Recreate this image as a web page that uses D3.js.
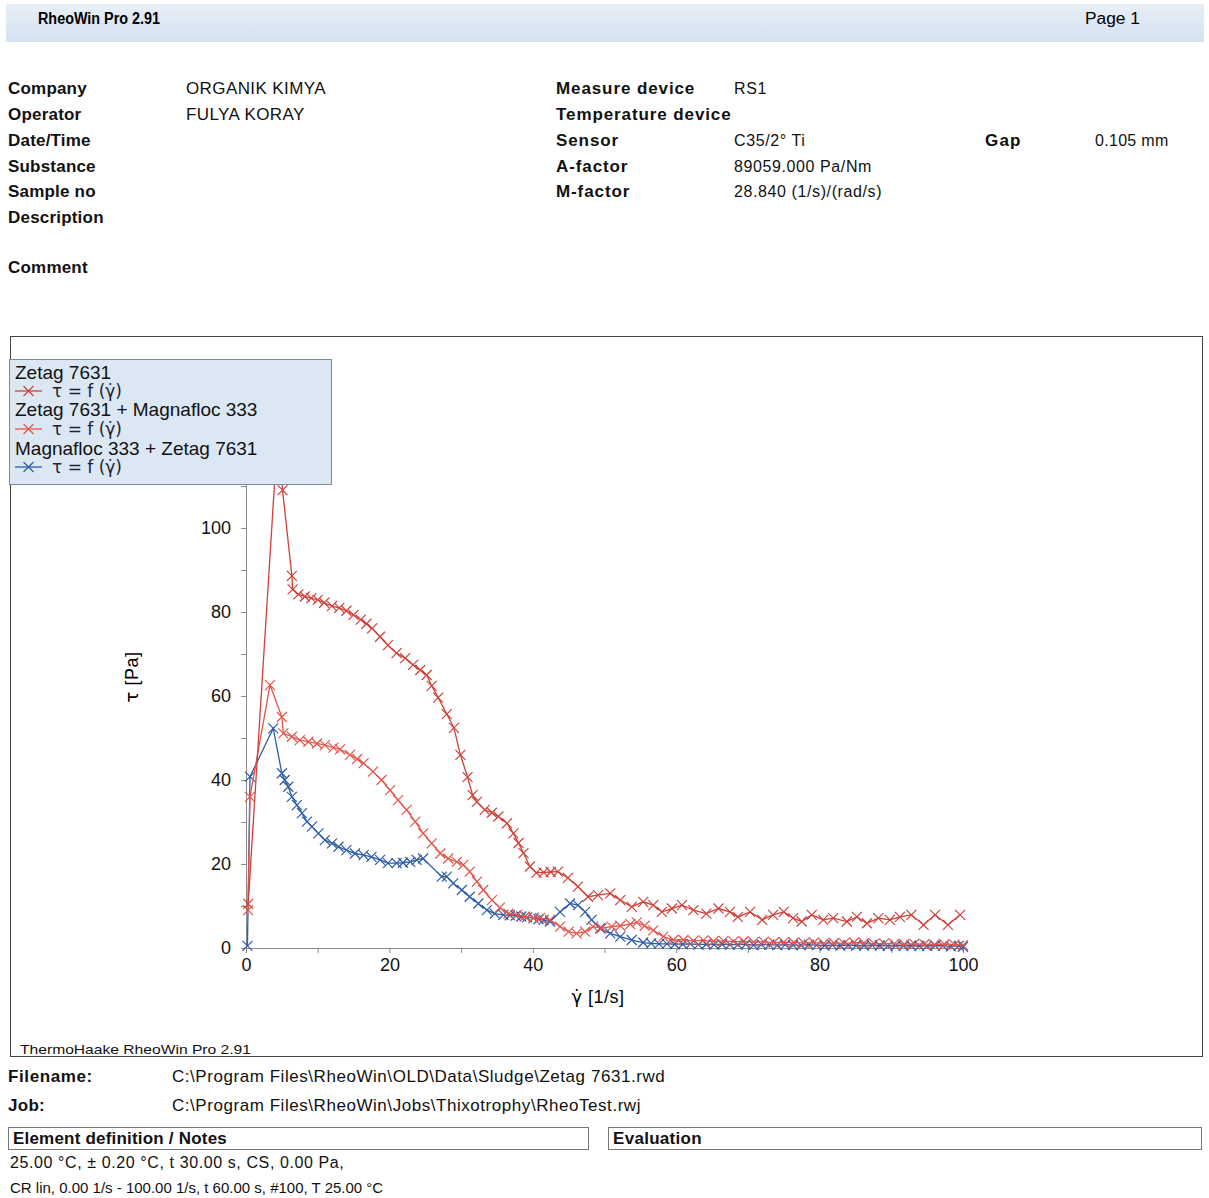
<!DOCTYPE html>
<html><head><meta charset="utf-8">
<script src="https://cdn.jsdelivr.net/npm/d3@7"></script>
<style>
html,body{margin:0;padding:0;background:#fff;}
svg{display:block;font-family:"Liberation Sans",Arial,sans-serif;}
</style></head><body>
<svg id="chart" width="1209" height="1198"></svg>
<script>
// ---------- DATA ----------
const seriesNames = ["Zetag 7631", "Zetag 7631 + Magnafloc 333", "Magnafloc 333 + Zetag 7631"];
const xTicks = [0, 20, 40, 60, 80, 100];
const yTicks = [0, 20, 40, 60, 80, 100];

const gammaA = [0.3,4.4,5.1,6.4,6.5,7.3,8.2,9.1,10,10.9,12,13,14,15,16,16.8,17.6,18.7,19.8,21,22.2,23.3,24.3,25.2,25.9,26.8,28,29,29.9,30.9,31.6,32.2,33.3,34.3,35.2,36.4,37.3,38,38.7,39.6,40.5,41.5,42.5,43.5,44.9,46.3,47.7,49.1,50.8,52.2,53.8,55.4,56.8,58,59.4,60.8,62.4,64.2,65.9,67.5,68.6,70.3,72,73.5,75,76.3,77.5,78.9,80.5,81.9,83.8,85.2,86.6,88.2,89.8,91.2,92.8,94.5,96.1,97.9,99.6];
const tauA   = [10.5,122,109,88.6,85.4,84.2,83.7,83.3,82.9,82.2,81.4,81,80.3,79.3,78.2,77.2,76.1,74.1,72.1,70.2,69,67.4,66.2,65,62.4,59.6,55.7,52.4,46,40.7,36.4,34.8,32.9,32.2,31.3,29.7,27.3,25,22.6,19.4,17.9,18,18.1,18.2,16.7,14.6,12.2,12.6,13,11.4,9.8,11,10.2,8.6,9.4,10.2,9,8.2,9.4,8.6,7.4,8.6,6.7,7.9,8.6,7.1,6.3,7.9,6.7,7.1,6.3,7.4,5.9,7.1,6.7,7.4,7.9,5.5,7.9,5.5,7.9];

const gammaB = [0.3,0.55,3.35,5,5.2,6.4,7.5,8.7,9.9,11,12.2,13.1,14.5,15.5,16.4,17.7,18.9,20.1,21.2,22.4,23.6,24.7,25.9,27.1,28.2,29.4,30.3,31.2,32.2,33.1,34.3,35.4,36.6,37.8,38.9,40.1,41,42.4,43.8,45,46.1,47.3,48.4,49.6,51,52.2,53.6,54.5,55.6,56.8,58.2,59.6,61,62.4,63.8,65.2,66.6,68,69.4,70.8,72.2,73.6,75,76.4,77.8,79.2,80.6,82,83.4,84.8,86.2,87.6,89,90.4,91.8,93.2,94.6,96,97.4,98.8,100];
const tauB   = [9,36,62.6,55,51.1,50.3,49.5,49.1,48.7,48.3,47.7,47.3,46,45,44,42,40,37.6,35.2,32.9,30.1,27.3,24.9,22.5,21.3,20.5,19.8,18.2,15.8,13.8,11.4,9.6,8.2,7.9,7.5,7.2,7.1,6.7,5.1,3.9,3.5,3.9,5.1,4.7,5.1,5.3,5.7,6.1,5.3,4.2,2.7,1.9,1.9,1.7,1.8,1.6,1.7,1.5,1.6,1.4,1.5,1.3,1.4,1.3,1.2,1.3,1.1,1.2,1.1,1.3,1.2,1.0,1.1,1.0,0.9,1.0,0.9,0.8,0.9,0.8,0.7];

const gammaC = [0.2,0.56,3.8,5,5.4,5.9,6.4,7.1,7.8,8.5,9.2,10.1,11,12,12.9,14,15.2,16.4,17.5,18.7,19.8,21,21.9,22.9,23.8,24.7,27.3,28,28.9,30.1,31.2,32.4,33.6,34.7,35.9,36.8,37.6,38.4,39.2,40.1,40.8,41.5,42.4,43.8,45.2,46.3,47.3,48.2,49.4,50.8,52.2,53.8,55.4,56.5,57.6,58.7,59.8,60.9,62,63.1,64.2,65.3,66.4,67.5,68.6,69.7,70.8,71.9,73,74.1,75.2,76.3,77.4,78.5,79.6,80.7,81.8,82.9,84,85.1,86.2,87.3,88.4,89.5,90.6,91.7,92.8,93.9,95,96.1,97.2,98.3,99.4,100];
const tauC   = [0.5,40.8,52.3,41.6,40,38.4,36,34,32.1,30.1,28.9,27.3,25.7,24.9,24.1,23.3,22.5,22.1,21.7,21,20.2,20.2,20.3,20.5,21,21.3,17,17,15.4,13.8,12.2,10.6,9,8.2,7.9,7.8,7.7,7.5,7.3,7.1,6.9,6.7,6.3,8.6,10.6,10.2,8.6,6.7,4.7,3.5,2.7,1.9,1.3,1.1,1.0,1.0,0.9,0.9,1.0,0.8,0.9,0.8,0.9,0.8,0.8,0.9,0.7,0.8,0.8,0.7,0.8,0.7,0.7,0.8,0.7,0.6,0.7,0.6,0.7,0.6,0.6,0.7,0.6,0.5,0.6,0.5,0.6,0.5,0.5,0.6,0.5,0.4,0.5,0.3];

const seriesColors = ["#cf403a", "#e4564c", "#2d5ca8"];

// ---------- DRAW ----------
const svg = d3.select("#chart");

// header band
const defs = svg.append("defs");
const grad = defs.append("linearGradient").attr("id","hdr").attr("x1","0").attr("x2","0").attr("y1","0").attr("y2","1");
grad.append("stop").attr("offset","0").attr("stop-color","#e8eff7");
grad.append("stop").attr("offset","1").attr("stop-color","#d3e1f0");
svg.append("rect").attr("x",6).attr("y",4).attr("width",1198).attr("height",38).attr("fill","url(#hdr)");
svg.append("text").attr("x",38).attr("y",24).attr("font-weight","bold").attr("font-size",16)
  .attr("textLength",122).attr("lengthAdjust","spacingAndGlyphs").text("RheoWin Pro 2.91");
svg.append("text").attr("x",1085).attr("y",24).attr("font-size",16)
  .attr("textLength",55).attr("lengthAdjust","spacingAndGlyphs").text("Page 1");

// info section
const infoLeftLabels = ["Company","Operator","Date/Time","Substance","Sample no","Description"];
const infoLeftValues = ["ORGANIK KIMYA","FULYA KORAY","","","",""];
const infoRightLabels = ["Measure device","Temperature device","Sensor","A-factor","M-factor"];
const infoRightValues = ["RS1","","C35/2° Ti","89059.000 Pa/Nm","28.840 (1/s)/(rad/s)"];
const rowY = [94,120,146,172,197,223];
const lab = (x,y,t,bold,size,ls) => svg.append("text").attr("x",x).attr("y",y).attr("font-size",size||17)
  .attr("letter-spacing",ls||0).attr("font-weight",bold?"bold":"normal").attr("fill","#111").text(t);
infoLeftLabels.forEach((t,i)=>lab(8,rowY[i],t,true,17,0.2));
infoLeftValues.forEach((t,i)=>lab(186,rowY[i],t,false,17,0.4));
lab(8,273,"Comment",true,17,0.2);
infoRightLabels.forEach((t,i)=>lab(556,rowY[i],t,true,17,0.9));
infoRightValues.forEach((t,i)=>lab(734,rowY[i],t,false,16,0.6));
lab(985,146,"Gap",true,17,1.2);
lab(1095,146,"0.105 mm",false,16,0.3);

// chart frame
svg.append("rect").attr("x",10.5).attr("y",336.5).attr("width",1192).attr("height",720).attr("fill","none").attr("stroke","#444").attr("stroke-width",1);

// scales
const x = d3.scaleLinear().domain([0,100]).range([246,963]);
const y = d3.scaleLinear().domain([0,120]).range([948,444]);

// axes
const gx = svg.append("g").attr("transform","translate(0,948)")
  .call(d3.axisBottom(x).tickValues(d3.range(0,101,10)).tickSize(5).tickPadding(5)
    .tickFormat(d => xTicks.includes(d) ? d : ""));
const gy = svg.append("g").attr("transform","translate(246,0)")
  .call(d3.axisLeft(y).tickValues(d3.range(0,121,10)).tickSize(5).tickPadding(10)
    .tickFormat(d => yTicks.includes(d) ? d : ""));
[gx,gy].forEach(g=>{
  g.select(".domain").attr("stroke","#8a8a8a");
  g.selectAll(".tick line").attr("stroke","#8a8a8a");
  g.selectAll(".tick text").attr("font-size",18).attr("fill","#111").attr("font-family","'Liberation Sans',Arial,sans-serif");
});

const gammaDot = (t) => t.append("tspan").attr("font-family","'DejaVu Sans',sans-serif").text("γ̇");

// axis titles
const ty = svg.append("text").attr("transform","translate(138,677) rotate(-90)").attr("text-anchor","middle").attr("font-size",18).attr("letter-spacing",0.5);
ty.append("tspan").attr("font-family","'DejaVu Sans',sans-serif").text("τ");
ty.append("tspan").text("  [Pa]");
const tx = svg.append("text").attr("x",598).attr("y",1003).attr("text-anchor","middle").attr("font-size",18).attr("letter-spacing",0.5);
gammaDot(tx);
tx.append("tspan").text("  [1/s]");

// series
const allSeries = [
  {g:gammaA,t:tauA,c:seriesColors[0]},
  {g:gammaB,t:tauB,c:seriesColors[1]},
  {g:gammaC,t:tauC,c:seriesColors[2]}
];
const line = d3.line().x(d=>x(d[0])).y(d=>y(d[1]));
const cross = (sel,px,py,c,r) => {
  sel.append("path").attr("d",`M${px-r},${py-r}L${px+r},${py+r}M${px-r},${py+r}L${px+r},${py-r}`)
    .attr("stroke",c).attr("stroke-width",1.2).attr("fill","none");
};
const plot = svg.append("g");
[2,1,0].forEach(i=>{
  const s = allSeries[i];
  const pts = s.g.map((g,k)=>[g,s.t[k]]);
  plot.append("path").datum(pts).attr("d",line).attr("fill","none").attr("stroke",s.c).attr("stroke-width",1.3);
  const mg = plot.append("g");
  pts.forEach(p=>cross(mg,x(p[0]),y(p[1]),s.c,5));
});

// legend
const lg = svg.append("g");
lg.append("rect").attr("x",9.5).attr("y",359.5).attr("width",322).attr("height",125).attr("fill","#dce7f4").attr("stroke","#7a8aa0").attr("stroke-width",1);
const legY = [379,397,416,435,455,473];
seriesNames.forEach((n,i)=>{
  lg.append("text").attr("x",15).attr("y",legY[2*i]).attr("font-size",19).attr("fill","#111").text(n);
  const yy = legY[2*i+1]-6;
  lg.append("line").attr("x1",15).attr("x2",42).attr("y1",yy).attr("y2",yy).attr("stroke",seriesColors[i]).attr("stroke-width",1.3);
  cross(lg,28.5,yy,seriesColors[i],5);
  lg.append("text").attr("x",52).attr("y",legY[2*i+1]).attr("font-size",17).attr("fill","#223")
    .attr("font-family","'DejaVu Sans',sans-serif").text("τ = f (γ̇)");
});

// bottom of frame text
svg.append("text").attr("x",20).attr("y",1054).attr("font-size",13).attr("fill","#111")
  .attr("textLength",231).attr("lengthAdjust","spacingAndGlyphs").text("ThermoHaake RheoWin Pro 2.91");

// footer
lab(8,1082,"Filename:",true,17,0.6);
lab(172,1082,"C:\\Program Files\\RheoWin\\OLD\\Data\\Sludge\\Zetag 7631.rwd",false,17,0.55);
lab(8,1111,"Job:",true,17,0.3);
lab(172,1111,"C:\\Program Files\\RheoWin\\Jobs\\Thixotrophy\\RheoTest.rwj",false,17,0.55);
svg.append("rect").attr("x",8.5).attr("y",1127.5).attr("width",580).attr("height",22).attr("fill","none").attr("stroke","#777");
svg.append("rect").attr("x",608.5).attr("y",1127.5).attr("width",593).attr("height",22).attr("fill","none").attr("stroke","#777");
lab(13,1144,"Element definition / Notes",true,17,0.2);
lab(613,1144,"Evaluation",true,17,0.3);
lab(10,1168,"25.00 °C, ± 0.20 °C, t 30.00 s, CS, 0.00 Pa,",false,16,0.6);
lab(10,1193,"CR lin, 0.00 1/s - 100.00 1/s, t 60.00 s, #100, T 25.00 °C",false,15,0);
</script>
</body></html>
